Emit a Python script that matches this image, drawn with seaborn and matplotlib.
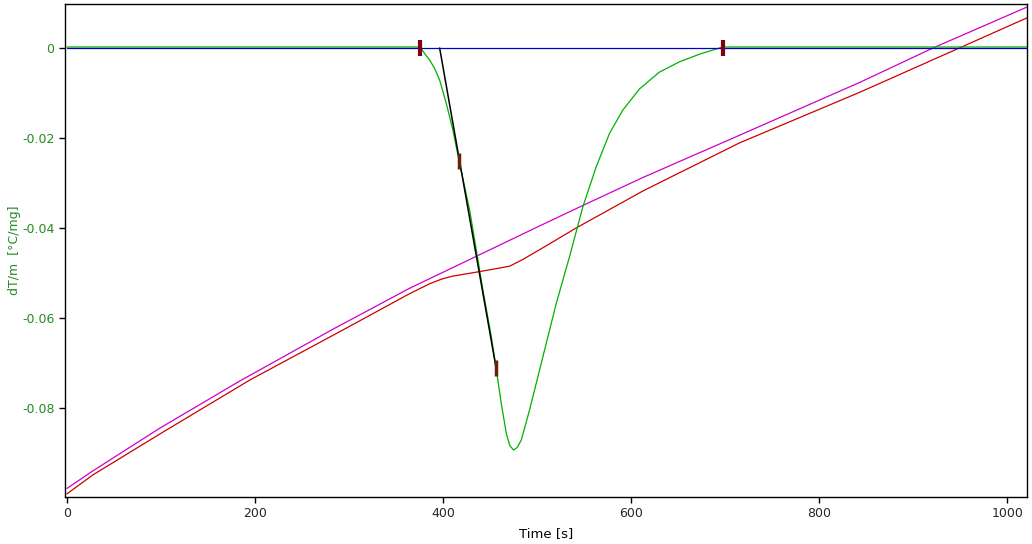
import numpy as np
import pandas as pd
import matplotlib
matplotlib.use("Agg")
import matplotlib.pyplot as plt
import matplotlib.transforms as mtransforms
import seaborn as sns

# ---- data ----
green_t = [0, 375.5, 380.4, 385.8, 391.1, 396.4, 403.5, 410.5, 417.6, 428.3, 435.4, 442.4,
           451.3, 457.3, 461.9, 467.3, 471.0, 475.0, 479.0, 483.2, 492.0, 506.2, 520.4,
           534.5, 548.7, 562.9, 577.0, 591.2, 609.0, 630.0, 651.4, 672.7, 697.4, 1021]
green_v = [0, 0, -0.00144, -0.00291, -0.00478, -0.00736, -0.01256, -0.01847, -0.02589,
           -0.03624, -0.04513, -0.05402, -0.06429, -0.07256, -0.07922, -0.08589, -0.08860,
           -0.08958, -0.08900, -0.08736, -0.08069, -0.06884, -0.05700, -0.04662, -0.03551,
           -0.02662, -0.01922, -0.01402, -0.00930, -0.00560, -0.00330, -0.00160, 0, 0]

red_t = [0, 27.6, 98.8, 194.5, 293.3, 364.5, 385.8, 398.0, 410.5, 438.9, 470.8, 484.9, 506.2,
         541.6, 577.0, 612.4, 647.9, 715.2, 843.6, 944.7, 1021]
red_v = [-0.0991, -0.0949, -0.0858, -0.0738, -0.0627, -0.0546, -0.0524, -0.0514, -0.0507,
         -0.0497, -0.0485, -0.0470, -0.0444, -0.0400, -0.0359, -0.0318, -0.0281, -0.0211,
         -0.0098, -0.0004, 0.0067]

mag_t = [0, 27.6, 98.8, 184.0, 283.0, 364.5, 435.4, 506.2, 548.7, 612.4, 715.2, 843.6,
         921.0, 1021]
mag_v = [-0.0979, -0.0940, -0.0845, -0.0740, -0.0625, -0.0534, -0.0463, -0.0392, -0.0350,
         -0.0288, -0.0194, -0.0076, 0.0, 0.0091]

base_t = [0, 1021]
base_v = [0, 0]

tangent_t = [396.4, 456.5]
tangent_v = [0.0, -0.0712]

limit_t = [375.5, 697.6]
limit_v = [0.0, 0.0]

onset_t = [417.2, 455.9]
onset_v = [-0.0251, -0.0711]

x_ticks = [0, 200, 400, 600, 800, 1000]
y_ticks = [0, -0.02, -0.04, -0.06, -0.08]
y_tick_labels = ["0", "-0.02", "-0.04", "-0.06", "-0.08"]
x_label = "Time [s]"
y_label = "dT/m  [°C/mg]"

# ---- plotting ----
sns.set_theme(style="white")
plt.rcParams['font.family'] = ['DejaVu Sans']

fig = plt.figure(figsize=(10.32, 5.44), dpi=100)
ax = fig.add_axes([65/1032, 1-497/544, (1027-65)/1032, (497-4)/544])

shift_up = mtransforms.offset_copy(ax.transData, fig=fig, x=0, y=1, units='dots')

sns.lineplot(x=mag_t, y=mag_v, ax=ax, color="#cc00cc", lw=0.9, sort=False, estimator=None)
sns.lineplot(x=red_t, y=red_v, ax=ax, color="#cc0000", lw=0.9, sort=False, estimator=None)
sns.lineplot(x=green_t, y=green_v, ax=ax, color="#00b000", lw=0.9, sort=False, estimator=None,
             transform=shift_up)
sns.lineplot(x=base_t, y=base_v, ax=ax, color="#0000c8", lw=0.9, sort=False, estimator=None)
sns.lineplot(x=tangent_t, y=tangent_v, ax=ax, color="black", lw=1.1, sort=False, estimator=None)

ax.plot(limit_t, limit_v, ls='none', marker='|', markersize=11.5, mew=3.0, color="#800010")
ax.plot(onset_t, onset_v, ls='none', marker='|', markersize=11.5, mew=2.5, color="#6a2010")

ax.set_xlim(-2, 1021)
ax.set_ylim(-0.0998, 0.00978)

ax.set_xticks(x_ticks)
ax.set_xticklabels([str(v) for v in x_ticks], fontsize=9)
ax.set_yticks(y_ticks)
ax.set_yticklabels(y_tick_labels, fontsize=9, color="#228b22")

ax.tick_params(axis='both', which='major', direction='out', length=4, width=1,
               bottom=True, left=True, color='black')
ax.tick_params(axis='y', labelcolor="#228b22")

ax.set_xlabel(x_label, fontsize=9.5, color='black', labelpad=5)
ax.set_ylabel(y_label, fontsize=9, color="#228b22")
ax.yaxis.set_label_coords(-0.0457, 0.5)

for s in ax.spines.values():
    s.set_color('black')
    s.set_linewidth(1.0)

ax.grid(False)
fig.savefig("out.png", dpi=100)
